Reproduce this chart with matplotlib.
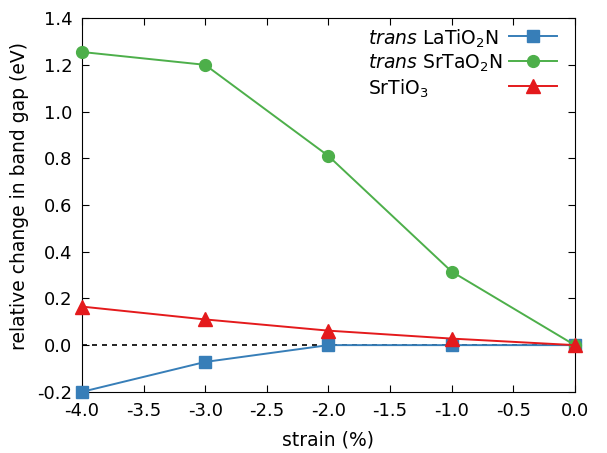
import matplotlib
matplotlib.use("Agg")
import matplotlib.pyplot as plt

strain = [-4.0, -3.0, -2.0, -1.0, 0.0]
latio2n = [-0.200, -0.072, 0.000, 0.000, 0.000]
srtao2n = [1.255, 1.200, 0.810, 0.315, 0.000]
srtio3 = [0.165, 0.110, 0.062, 0.028, 0.000]
labels = [r'$\it{trans}$ LaTiO$_2$N', r'$\it{trans}$ SrTaO$_2$N', r'SrTiO$_3$']

xticks = [-4.0, -3.5, -3.0, -2.5, -2.0, -1.5, -1.0, -0.5, 0.0]
yticks = [-0.2, 0.0, 0.2, 0.4, 0.6, 0.8, 1.0, 1.2, 1.4]

plt.rcParams['font.family'] = 'DejaVu Sans'
fig = plt.figure(figsize=(6.07, 4.53), dpi=100)
ax = fig.add_axes([0.135, 0.135, 0.812, 0.825])

ax.axhline(0, color='black', ls=(0, (3, 3)), lw=1.2, zorder=1)
l1, = ax.plot(strain, latio2n, '-s', color='#377eb8', ms=8.5, lw=1.4,
              clip_on=False, zorder=3)
l2, = ax.plot(strain, srtao2n, '-o', color='#4daf4a', ms=8.5, lw=1.4,
              clip_on=False, zorder=3)
l3, = ax.plot(strain, srtio3, '-^', color='#e41a1c', ms=10, lw=1.4,
              clip_on=False, zorder=3)

ax.set_xlim(-4.0, 0.0)
ax.set_ylim(-0.2, 1.4)
ax.set_xticks(xticks)
ax.set_yticks(yticks)
ax.set_xticklabels([f"{v:.1f}" for v in xticks])
ax.set_yticklabels([f"{v:.1f}" for v in yticks])
ax.tick_params(direction='in', top=True, right=True, labelsize=13, length=5, pad=7)
ax.set_xlabel('strain (%)', fontsize=13.5, labelpad=8)
ax.set_ylabel('relative change in band gap (eV)', fontsize=13.5, labelpad=4)
ax.yaxis.set_label_coords(-0.108, 0.524)

# legend: handles on the right, labels left-aligned on the left
leg = ax.legend(handles=[l1, l2, l3], labels=['', '', ''], loc='upper right',
                bbox_to_anchor=(0.979, 0.995), frameon=False,
                fontsize=13.5, handlelength=2.56, handletextpad=0.0,
                labelspacing=0.33, borderaxespad=0.0)
fig.canvas.draw()
inv = ax.transAxes.inverted()
for ln, lab in zip(leg.get_lines(), labels):
    pts = ln.get_transform().transform(ln.get_xydata())
    yd = pts[:, 1].mean()
    xa, ya = inv.transform((0, yd))
    ax.text(0.58, ya, lab, transform=ax.transAxes, ha='left',
            va='center_baseline', fontsize=13.5)

fig.savefig('out.png', dpi=100)
